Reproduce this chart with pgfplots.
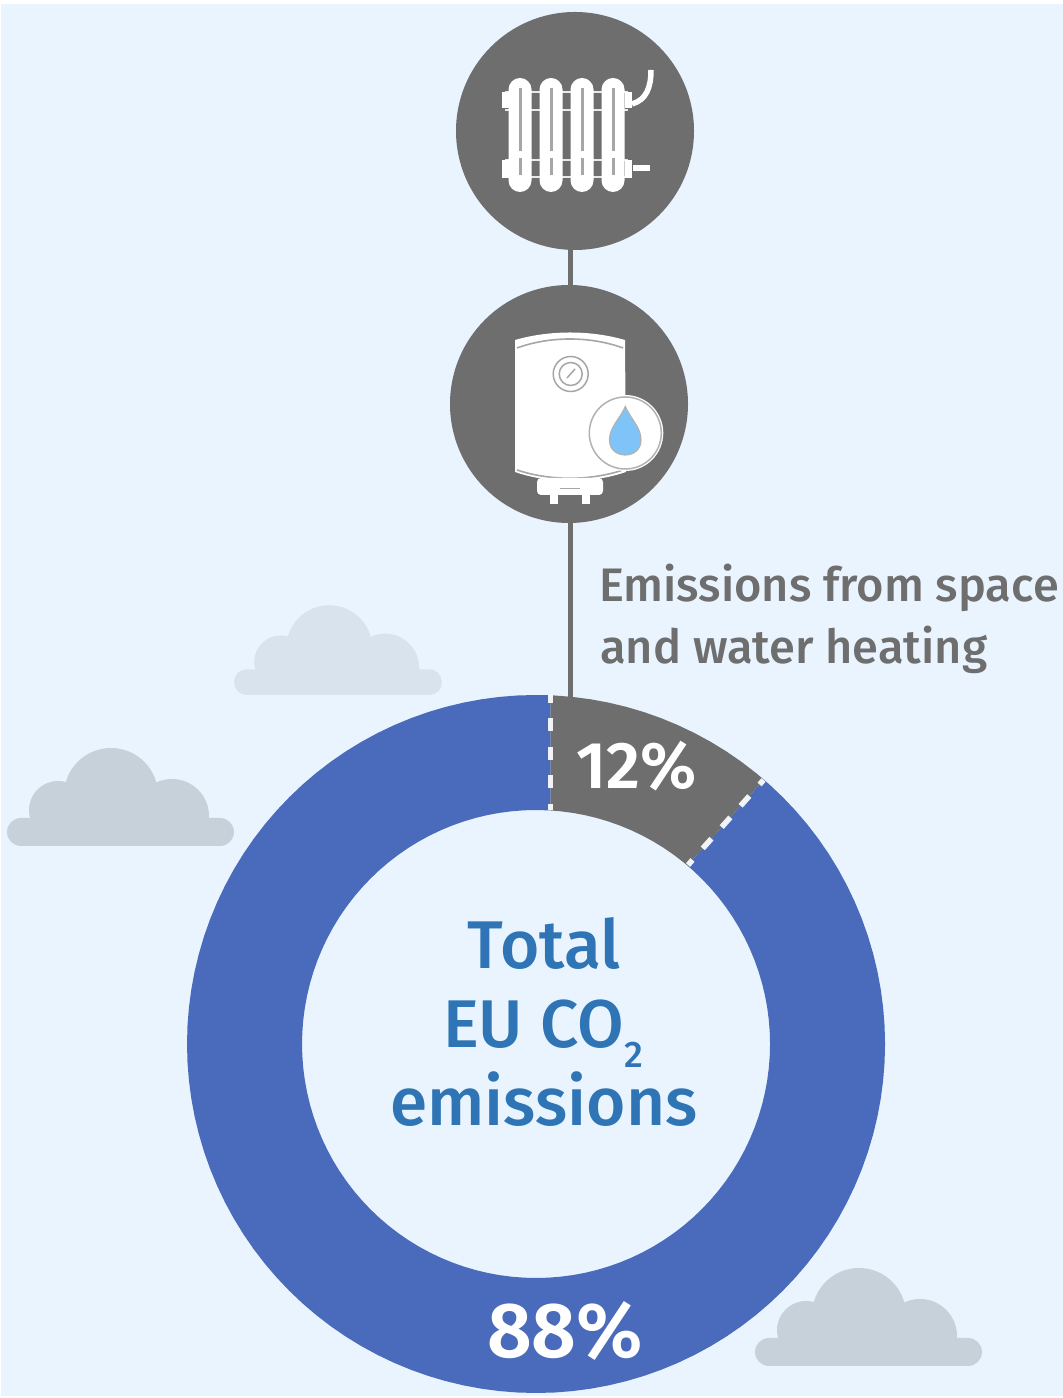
\documentclass[border=0pt]{standalone}
\usepackage{pgfplots}
\pgfplotsset{compat=1.18}
\usepackage{fontspec}
\setmainfont{Fira Sans}
\newfontfamily\firamed{Fira Sans Medium}
\newfontfamily\firasemi{Fira Sans SemiBold}
\definecolor{bg}{HTML}{E9F4FE}
\definecolor{grayc}{HTML}{6E6E6E}
\definecolor{bluec}{HTML}{4A6BBB}
\definecolor{textblue}{HTML}{2F75B5}
\definecolor{cloudA}{HTML}{D9E3ED}
\definecolor{cloudB}{HTML}{C7D1DA}
\definecolor{drop}{HTML}{7FC4F8}
\newcommand{\cloud}[4]{%
  \begin{scope}[shift={(#1,#2)},x=#3pt,y=#3pt]
    \fill[#4,rounded corners=#3*14pt] (0,0) rectangle (227,28);
    \fill[#4] (23,14) rectangle (202,30);
    \begin{scope}
      \clip (0,10) rectangle (227,110);
      \fill[#4] (104,51) circle[radius=47];
      \fill[#4] (51,36) circle[radius=29];
      \fill[#4] (165,30) circle[radius=37];
    \end{scope}
  \end{scope}}
\newcommand{\pill}[1]{%
  \fill[white,rounded corners=11.5pt] (#1-11.5,78) rectangle (#1+11.5,192);
  \draw[gray!70,line width=3pt] (#1,88) -- (#1,151);
  \draw[gray!70,line width=3pt] (#1,158) -- (#1,175);}
\begin{document}
\begin{tikzpicture}
\fill[white] (0,0) rectangle (1063pt,1398pt);
\begin{scope}[shift={(0,1398pt)},x=1pt,y=-1pt]
  \fill[bg] (1,4) rectangle (1063,1396);
  % clouds
  \cloud{234}{695}{0.916}{cloudA}
  \cloud{7}{846}{1}{cloudB}
  \cloud{755}{1366}{1}{cloudB}
  % connector
  \draw[grayc,line width=5pt] (570,240) -- (570,700);
  % circles
  \fill[grayc] (575,131) circle[radius=119];
  \fill[grayc] (569,404) circle[radius=119];
  % radiator
  \foreach \y/\h in {92/1,110/1,160/1,177/1}{
    \draw[white!85!grayc,line width=2.5pt] (505,\y) -- (628,\y);}
  \fill[white] (502,92) rectangle (510,108);
  \fill[white] (502,160) rectangle (510,178);
  \fill[white] (625,92) rectangle (632,108);
  \fill[white] (625,160) rectangle (632,178);
  \pill{520}\pill{551}\pill{582}\pill{613}
  \draw[white,line width=5.5pt] (632,104) .. controls (646,100) and (651,88) .. (651,70);
  \draw[white,line width=5.5pt] (633,168) -- (650,168);
  % boiler
  \fill[white] (515,340) .. controls (550,330) and (590,330) .. (625,340)
     -- (626,472) .. controls (590,484) and (550,484) .. (515,472) -- cycle;
  \draw[gray!70,line width=1.6pt] (517,348) .. controls (550,336) and (590,336) .. (623,348);
  \draw[gray!70,line width=1.6pt] (517,470) .. controls (550,481) and (590,481) .. (623,470);
  \fill[white,rounded corners=4pt] (537,478) rectangle (603,495);
  \fill[white] (550,495) rectangle (558,504);
  \fill[white] (582,495) rectangle (590,504);
  \draw[gray!70,line width=1.2pt] (560,488.5) -- (580,488.5);
  \draw[gray!70,line width=1.5pt] (570.7,374) circle[radius=17.5];
  \draw[gray!70,line width=1.5pt] (570.7,374) circle[radius=11.5];
  \draw[gray!70,line width=1.5pt] (567,378) -- (575,369);
  \fill[white] (625.3,433) circle[radius=38];
  \draw[gray!60,line width=1.5pt] (625.3,433) circle[radius=36];
  \fill[drop,draw=gray!60,line width=1.2pt] (625.3,406.5) .. controls (620,419) and (609.5,427) .. (609.5,440)
     .. controls (609.5,460) and (641,460) .. (641,440)
     .. controls (641,427) and (630.5,419) .. (625.3,406.5) -- cycle;
\end{scope}
\begin{axis}[
  at={(0,0)},anchor=south west,
  width=1063pt,height=1398pt,scale only axis,
  xmin=-536,xmax=527,ymin=-354,ymax=1044,
  hide axis,clip=false]
% share 88 % -- blue ring sector
\addplot[bluec,fill=bluec,draw=none,mark=none,data cs=polar] coordinates {
 (49.25,349)(48,349)(45,349)(42,349)(39,349)(36,349)(33,349)(30,349)(27,349)(24,349)(21,349)(18,349)(15,349)(12,349)(9,349)(6,349)(3,349)(0,349)
 (-3,349)(-6,349)(-9,349)(-12,349)(-15,349)(-18,349)(-21,349)(-24,349)(-27,349)(-30,349)(-33,349)(-36,349)(-39,349)(-42,349)(-45,349)(-48,349)(-51,349)(-54,349)(-57,349)(-60,349)
 (-63,349)(-66,349)(-69,349)(-72,349)(-75,349)(-78,349)(-81,349)(-84,349)(-87,349)(-90,349)(-93,349)(-96,349)(-99,349)(-102,349)(-105,349)(-108,349)(-111,349)(-114,349)(-117,349)(-120,349)
 (-123,349)(-126,349)(-129,349)(-132,349)(-135,349)(-138,349)(-141,349)(-144,349)(-147,349)(-150,349)(-153,349)(-156,349)(-159,349)(-162,349)(-165,349)(-168,349)(-171,349)(-174,349)(-177,349)(-180,349)
 (-183,349)(-186,349)(-189,349)(-192,349)(-195,349)(-198,349)(-201,349)(-204,349)(-207,349)(-210,349)(-213,349)(-216,349)(-219,349)(-222,349)(-225,349)(-228,349)(-231,349)(-234,349)(-237,349)(-240,349)
 (-243,349)(-246,349)(-249,349)(-252,349)(-255,349)(-258,349)(-261,349)(-264,349)(-267,349)(-270,349)(-272.4,349)
 (-273.55,234)(-270,234)(-267,234)(-264,234)(-261,234)(-258,234)(-255,234)(-252,234)(-249,234)(-246,234)(-243,234)
 (-240,234)(-237,234)(-234,234)(-231,234)(-228,234)(-225,234)(-222,234)(-219,234)(-216,234)(-213,234)(-210,234)(-207,234)(-204,234)(-201,234)(-198,234)(-195,234)(-192,234)(-189,234)(-186,234)(-183,234)
 (-180,234)(-177,234)(-174,234)(-171,234)(-168,234)(-165,234)(-162,234)(-159,234)(-156,234)(-153,234)(-150,234)(-147,234)(-144,234)(-141,234)(-138,234)(-135,234)(-132,234)(-129,234)(-126,234)(-123,234)
 (-120,234)(-117,234)(-114,234)(-111,234)(-108,234)(-105,234)(-102,234)(-99,234)(-96,234)(-93,234)(-90,234)(-87,234)(-84,234)(-81,234)(-78,234)(-75,234)(-72,234)(-69,234)(-66,234)(-63,234)
 (-60,234)(-57,234)(-54,234)(-51,234)(-48,234)(-45,234)(-42,234)(-39,234)(-36,234)(-33,234)(-30,234)(-27,234)(-24,234)(-21,234)(-18,234)(-15,234)(-12,234)(-9,234)(-6,234)(-3,234)
 (0,234)(3,234)(6,234)(9,234)(12,234)(15,234)(18,234)(21,234)(24,234)(27,234)(30,234)(33,234)(36,234)(39,234)(42,234)(45,234)(48,234)(49.7,234)
} --cycle;
% share 12 % -- grey ring sector
\addplot[grayc,fill=grayc,draw=none,mark=none,data cs=polar] coordinates {
 (87.6,349)(87,349)(84,349)(81,349)(78,349)(75,349)(72,349)(69,349)(66,349)(63,349)(60,349)(57,349)(54,349)(51,349)(49.25,349)
 (49.7,234)(51,234)(54,234)(57,234)(60,234)(63,234)(66,234)(69,234)(72,234)(75,234)(78,234)(81,234)(84,234)(86.45,234)
} --cycle;
% dashed separators
\addplot[white,line width=5.5pt,mark=none,dash pattern=on 13pt off 15.5pt,dash phase=5pt,opacity=.92]
  coordinates {(14.5,349)(14.5,234)};
\addplot[white,line width=5.5pt,mark=none,dash pattern=on 13pt off 15.5pt,dash phase=7pt,opacity=.92]
  coordinates {(227.5,264)(152,179)};
\end{axis}
\begin{scope}[shift={(0,1398pt)},x=1pt,y=-1pt]
  \node[anchor=base west,inner sep=0,text=grayc,font=\firamed\fontsize{47}{50}\selectfont] at (599,602) {Emissions from space};
  \node[anchor=base west,inner sep=0,text=grayc,font=\firamed\fontsize{47}{50}\selectfont] at (600,664) {and water heating};
  \node[anchor=base,inner sep=0,text=white,font=\firasemi\fontsize{66}{70}\selectfont] at (636.5,788.5) {12\%};
  \node[anchor=base,inner sep=0,text=white,font=\firasemi\fontsize{78}{80}\selectfont] at (565,1357.5) {88\%};
  \node[anchor=base,inner sep=0,text=textblue,font=\firamed\fontsize{67.5}{70}\selectfont] at (544,969) {Total};
  \node[anchor=base west,inner sep=0,text=textblue,font=\firamed\fontsize{67.5}{70}\selectfont] at (443,1048) {EU CO};
  \node[anchor=base west,inner sep=0,text=textblue,font=\firamed\fontsize{37}{40}\selectfont] at (624,1068) {2};
  \node[anchor=base,inner sep=0,text=textblue,font=\firamed\fontsize{67.5}{70}\selectfont] at (544,1126) {emissions};
\end{scope}
\end{tikzpicture}
\end{document}
